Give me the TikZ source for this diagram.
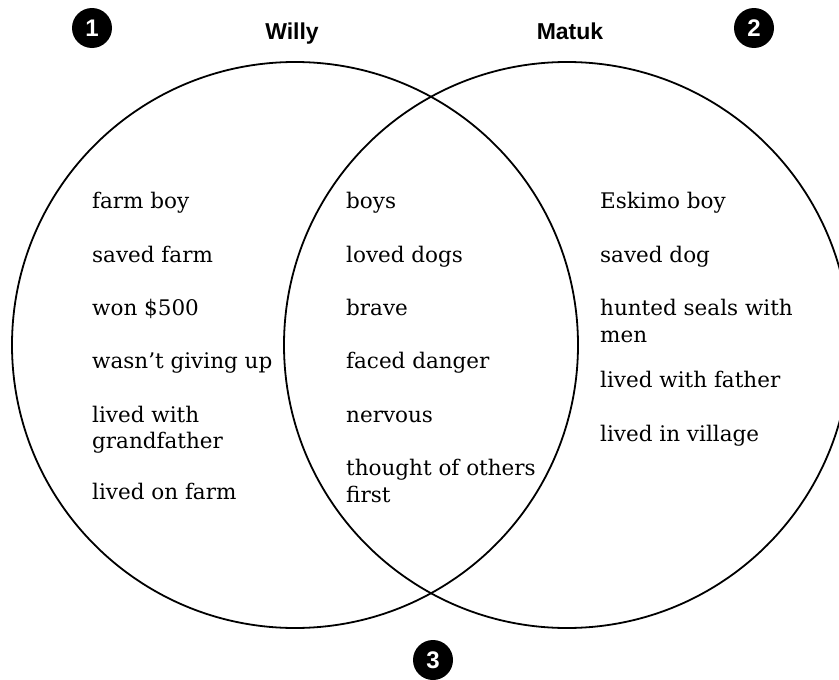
\documentclass[tikz,border=0pt]{standalone}
\usepackage{fontspec}
\usetikzlibrary{positioning}
\newfontfamily\itemfont{DejaVu Serif}
\newfontfamily\headfont{Liberation Sans}
\tikzset{
    item/.style={anchor=north west, inner sep=0, align=left,
        font={\itemfont\fontsize{21.5}{26.5}\selectfont}},
    head/.style={anchor=base, inner sep=0, font={\headfont\fontsize{23}{26}\selectfont\bfseries}},
    badge/.style={circle, fill=black, text=white, minimum size=40pt, inner sep=0,
        font={\headfont\fontsize{24}{26}\selectfont\bfseries}},
    ring/.style={line width=1.8pt}
}
\begin{document}
\begin{tikzpicture}[x=1pt, y=-1pt, node distance=26.5pt]
    \useasboundingbox (0,0) rectangle (839,680);
    \clip (0,0) rectangle (839,680);
    \draw[ring] (295,345) circle[radius=283pt];
    \draw[ring] (567,345) circle[radius=283pt];
    \foreach \n/\x/\y in {1/92/28, 2/754/28, 3/433/660} {
        \node[badge] (num\n) at (\x,\y) {\n};
    }
    \node[head] (willy) at (292,39) {Willy};
    \node[head] (matuk) at (570,39) {Matuk};

    \node[item] (w1) at (92,190) {\strut farm boy};
    \node[item, below=of w1.south west, anchor=north west] (w2) {\strut saved farm};
    \node[item, below=of w2.south west, anchor=north west] (w3) {\strut won \$500};
    \node[item, below=of w3.south west, anchor=north west] (w4) {\strut wasn’t giving up};
    \node[item, below=of w4.south west, anchor=north west] (w5) {\strut lived with\\grandfather};
    \node[item, below=of w5.south west, anchor=north west] (w6) {\strut lived on farm};

    \node[item] (b1) at (346,190) {\strut boys};
    \node[item, below=of b1.south west, anchor=north west] (b2) {\strut loved dogs};
    \node[item, below=of b2.south west, anchor=north west] (b3) {\strut brave};
    \node[item, below=of b3.south west, anchor=north west] (b4) {\strut faced danger};
    \node[item, below=of b4.south west, anchor=north west] (b5) {\strut nervous};
    \node[item, below=of b5.south west, anchor=north west] (b6) {\strut thought of others\\first};

    \node[item] (m1) at (600,190) {\strut Eskimo boy};
    \node[item, below=of m1.south west, anchor=north west] (m2) {\strut saved dog};
    \node[item, below=of m2.south west, anchor=north west] (m3) {\strut hunted seals with\\men};
    \node[item, below=of m3.south west, anchor=north west] (m4) {\strut lived with father};
    \node[item, below=of m4.south west, anchor=north west] (m5) {\strut lived in village};
\end{tikzpicture}
\end{document}
